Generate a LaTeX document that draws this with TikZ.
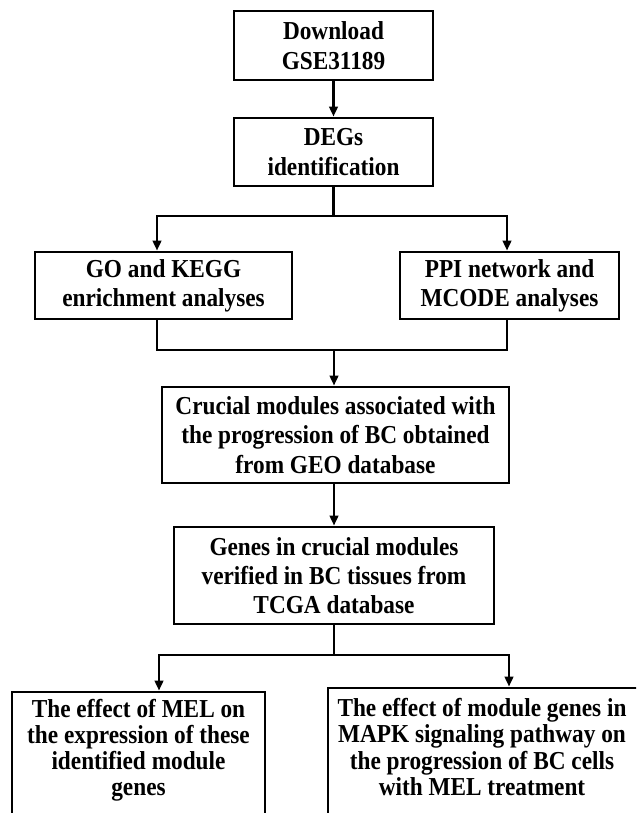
\documentclass[tikz,border=0pt]{standalone}
\usepackage{fontspec}
\setmainfont{Liberation Serif}[FakeStretch=0.9]
\usetikzlibrary{arrows.meta}
\begin{document}
\begin{tikzpicture}[x=0.75pt,y=-0.75pt,
  box/.style={draw=black,line width=2.2pt,inner sep=0pt,align=center,
    font=\fontsize{19.4pt}{22pt}\selectfont\bfseries},
  txt/.style={inner sep=0pt,align=center,
    font=\fontsize{19.4pt}{19.6pt}\selectfont\bfseries},
  conn/.style={line width=1.7pt},
  arr/.style={line width=1.7pt,-{Triangle[length=7.5pt,width=6.5pt]}}]
\useasboundingbox (0,0) rectangle (636,813);
\clip (0,0) rectangle (636,813);
\fill[white] (0,0) rectangle (636,813);
% boxes
\node[box,minimum width=149.25pt,minimum height=51.75pt] (dl) at (333.5,45.5) {Download\\GSE31189};
\node[box,minimum width=149.25pt,minimum height=51pt] (deg) at (333.5,152) {DEGs\\identification};
\node[box,minimum width=192.75pt,minimum height=50.25pt] (go) at (163.5,285.5) {GO and KEGG\\enrichment analyses};
\node[box,minimum width=164.25pt,minimum height=50.25pt] (ppi) at (509.5,285.5) {PPI network and\\MCODE analyses};
\node[box,minimum width=260.25pt,minimum height=72pt] (cru) at (335.5,435) {Crucial modules associated with\\the progression of BC obtained\\from GEO database};
\node[box,minimum width=240pt,minimum height=72.75pt] (gen) at (334,575.5) {Genes in crucial modules\\verified in BC tissues from\\TCGA database};
\node[box,minimum width=189.75pt,minimum height=111pt] (mel) at (138.5,766) {};
\node[box,minimum width=249pt,minimum height=114pt] (map) at (494,764) {};
\node[txt] (meltxt) at (138.5,750) {The effect of MEL on\\the expression of these\\identified module\\genes};
\node[txt] (maptxt) at (482,747) {The effect of module genes in\\MAPK signaling pathway on\\the progression of BC cells\\with MEL treatment};
% junction coordinates
\coordinate (aL) at (157,216);
\coordinate (aR) at (507,216);
\coordinate (mL) at (157,350);
\coordinate (mR) at (507,350);
\coordinate (mC) at (334,350);
\coordinate (cC) at (334,483);
\coordinate (bL) at (159,655);
\coordinate (bR) at (509,655);
% connectors
\draw[arr] (dl.south) -- (deg.north);
\draw[conn] (deg.south) -- (deg.south |- aL);
\draw[arr] (deg.south |- aL) -- (aL) -- (aL |- go.north);
\draw[arr] (deg.south |- aR) -- (aR) -- (aR |- ppi.north);
\draw[conn] (mL |- go.south) -- (mL) -- (mR) -- (mR |- ppi.south);
\draw[arr] (mC) -- (mC |- cru.north);
\draw[arr] (cC |- cru.south) -- (cC |- gen.north);
\draw[conn] (gen.south) -- (gen.south |- bL);
\draw[arr] (gen.south |- bL) -- (bL) -- (bL |- mel.north);
\draw[arr] (gen.south |- bR) -- (bR) -- (bR |- map.north);
\end{tikzpicture}
\end{document}
